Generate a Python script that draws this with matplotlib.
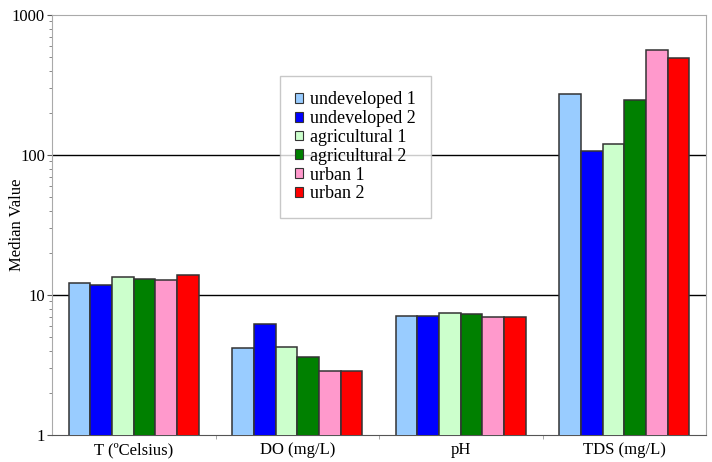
import numpy as np
import matplotlib
matplotlib.use("Agg")
import matplotlib.pyplot as plt
from matplotlib.ticker import FixedLocator, LogLocator, NullFormatter

plt.rcParams['font.family'] = ['Liberation Serif', 'DejaVu Serif']

# median values per parameter, one list per land-use site
categories = ["T (ºCelsius)", "DO (mg/L)", "pH", "TDS (mg/L)"]
series_names = ["undeveloped 1", "undeveloped 2", "agricultural 1",
                "agricultural 2", "urban 1", "urban 2"]
undeveloped_1 = [12.1, 4.2, 7.05, 274]
undeveloped_2 = [11.8, 6.2, 7.08, 107]
agricultural_1 = [13.4, 4.27, 7.4, 120]
agricultural_2 = [13.1, 3.59, 7.28, 246]
urban_1 = [12.9, 2.88, 7.0, 562]
urban_2 = [14.0, 2.88, 6.93, 490]
colors = ["#99CCFF", "#0000FF", "#CCFFCC", "#008000", "#FF99CC", "#FF0000"]

series = [undeveloped_1, undeveloped_2, agricultural_1,
          agricultural_2, urban_1, urban_2]

fig = plt.figure(figsize=(7.12, 4.62), dpi=100)
ax = fig.add_axes([52 / 712, 27 / 462, 654 / 712, 420 / 462])

x = np.arange(len(categories))
w = 0.1325
for i, (vals, name, c) in enumerate(zip(series, series_names, colors)):
    ax.bar(x + (i - 2.5) * w, vals, width=w, color=c,
           edgecolor="#333333", linewidth=1.1, label=name, zorder=3)

ax.set_yscale("log")
ax.set_ylim(1, 1000)
ax.set_xlim(-0.5, len(categories) - 0.5)
ax.set_yticks([1, 10, 100, 1000])
ax.set_yticklabels(["1", "10", "100", "1000"])
ax.yaxis.set_minor_locator(LogLocator(base=10, subs=np.arange(2, 10)))
ax.yaxis.set_minor_formatter(NullFormatter())
ax.tick_params(axis="y", which="major", length=3.6, color="#555555",
               labelsize=12, pad=1.5)
ax.tick_params(axis="y", which="minor", length=2, color="#777777")

ax.set_xticks(x)
ax.set_xticklabels(categories)
ax.tick_params(axis="x", which="major", length=0, labelsize=12, pad=5)
ax.xaxis.set_minor_locator(FixedLocator(x[:-1] + 0.5))
ax.tick_params(axis="x", which="minor", length=3, color="#999999")

for yv in [10, 100]:
    ax.axhline(yv, color="black", linewidth=1, zorder=1)

for side in ["left", "right", "top"]:
    ax.spines[side].set_color("#aaaaaa")
ax.spines["bottom"].set_color("#555555")

ax.set_ylabel("Median Value", fontsize=12)
ax.yaxis.set_label_coords(-27 / 654, 0.5)

leg = ax.legend(loc="upper left", bbox_to_anchor=(280 / 712, 1 - 76 / 462),
                bbox_transform=fig.transFigure, borderaxespad=0,
                fontsize=13, frameon=True, fancybox=False,
                handlelength=0.45, handleheight=0.45, handletextpad=0.35,
                labelspacing=0.1, borderpad=0.85)
leg.get_frame().set_edgecolor("#bbbbbb")
leg.get_frame().set_linewidth(1.0)
leg.set_zorder(5)
for h in leg.legend_handles:
    h.set_linewidth(0.8)

fig.savefig("out.png", dpi=100)
